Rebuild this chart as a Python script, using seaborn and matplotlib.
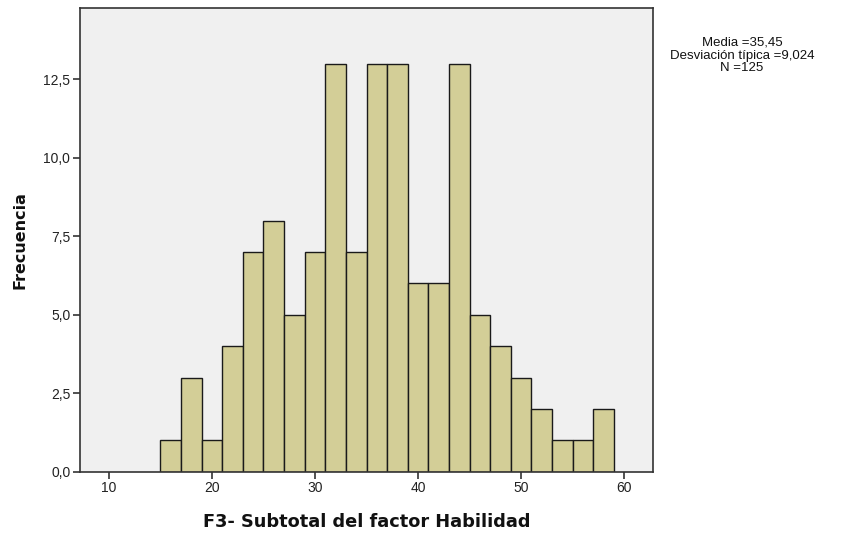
import matplotlib
matplotlib.use("Agg")
import matplotlib.pyplot as plt
import seaborn as sns
import numpy as np

bin_starts = [15, 17, 19, 21, 23, 25, 27, 29, 31, 33, 35, 37, 39, 41, 43, 45, 47, 49, 51, 53, 55, 57]
counts = [1, 3, 1, 4, 7, 8, 5, 7, 13, 7, 13, 13, 6, 6, 13, 5, 4, 3, 2, 1, 1, 2]
bin_width = 2
x_ticks = [10, 20, 30, 40, 50, 60]
y_ticks = [0.0, 2.5, 5.0, 7.5, 10.0, 12.5]
stats_text = "Media =35,45\nDesviación típica =9,024\nN =125"

sns.set_style("white")
plt.rcParams['font.family'] = ['Liberation Sans', 'DejaVu Sans']

fig = plt.figure(figsize=(8.49, 5.38), dpi=100)
ax = fig.add_axes([80/849, 1-471.7/538, (653-80)/849, (471.7-8)/538])
ax.set_facecolor("#F0F0F0")

centers = [s + bin_width/2 for s in bin_starts]
edges = bin_starts + [bin_starts[-1] + bin_width]
sns.histplot(x=centers, weights=counts, bins=edges, ax=ax,
             color="#D3CE97", edgecolor="#1a1a1a", linewidth=1.0, alpha=1.0)

ax.set_xlim(7.2, 62.8)
ax.set_ylim(0, 14.77)
ax.set_xticks(x_ticks)
ax.set_xticklabels([str(t) for t in x_ticks])
ax.set_yticks(y_ticks)
ax.set_yticklabels([f"{t:.1f}".replace(".", ",") for t in y_ticks])
ax.tick_params(axis="both", direction="out", length=5, width=1.2, color="#333333",
               labelsize=10, labelcolor="#222222", bottom=True, left=True, pad=2)
for sp in ax.spines.values():
    sp.set_color("#333333")
    sp.set_linewidth(1.2)
    sp.set_visible(True)

ax.set_xlabel("F3- Subtotal del factor Habilidad", fontsize=12.8, fontweight="bold",
              labelpad=13, family="DejaVu Sans", color="#111111")
ax.set_ylabel("Frecuencia", fontsize=11.5, fontweight="bold", labelpad=11,
              family="DejaVu Sans", color="#111111")

fig.text(742/849, 1-55.5/538, stats_text, ha="center", va="center", fontsize=9.5,
         linespacing=1.1, color="#111111")

fig.savefig("out.png", dpi=100)
